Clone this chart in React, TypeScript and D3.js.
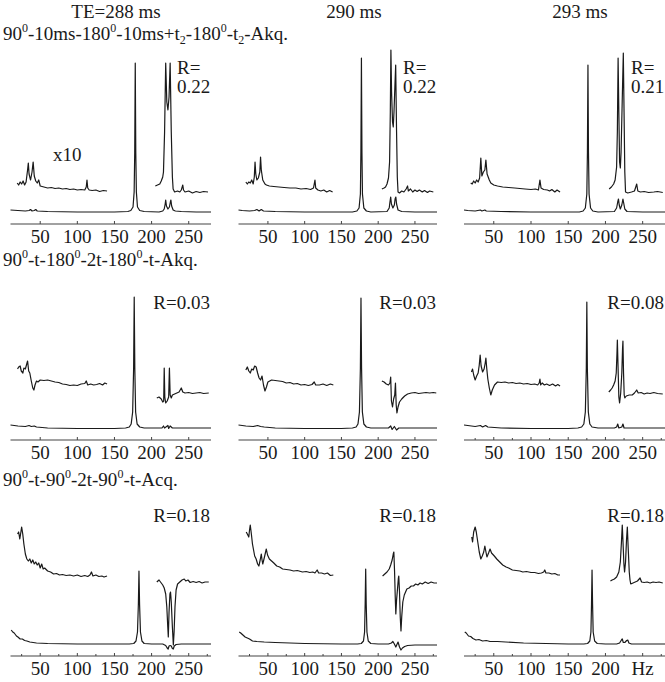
import React from 'react';
import * as d3 from 'd3';

const width = 665;
const height = 682;

// frequency axis (Hz) shared by all nine spectra
const hzDomain = [10, 280];
const majorTicks = [50, 100, 150, 200, 250];
const minorTicks = [25, 75, 125, 175, 225, 275];
const tickLabels = ['50', '100', '150', '200', '250'];
const lastColTickLabels = ['50', '100', '150', '200', 'Hz'];

const headers = ['TE=288 ms', '290 ms', '293 ms'];
const rValues = [
  ['0.22', '0.22', '0.21'],
  ['0.03', '0.03', '0.08'],
  ['0.18', '0.18', '0.18'],
];

// ---- sequence A: 90-10ms-180-10ms+t2-180-t2-Akq. ----
const seqA288Main = [[10,2],[20,1.5],[30,1],[35,1.5],[37,2.5],[39,1],[42,1.5],[44,2.5],[46,1],[60,0.5],[100,0],[150,0],[168,0.5],[172,1.5],[175,5],[176.5,20],[177.3,60],[178,149],[178.7,60],[179.5,20],[181,5],[184,1.5],[190,0.5],[210,0],[215,1],[217,3],[218.3,8],[219,12],[220,6],[222,3],[224,5],[225.3,10],[226,12],[227,6],[229,2],[232,1],[240,0.5],[260,0],[280,0]];
const seqA288Low = [[19,9],[21,7],[23,10],[25,8],[27,11],[29,7],[31,10],[33,22],[34,29],[35,18],[37,12],[39,20],[40.5,30],[42,16],[44,11],[46,9],[48,12],[50,6],[55,5],[60,4],[65,4.5],[70,3.5],[75,4],[80,3],[85,3.5],[90,2.5],[95,3],[100,2],[105,2.5],[110,2],[112,5],[113,12],[114,4],[116,2],[120,1.5],[125,2],[130,0.5],[135,1.5],[140,1]];
const seqA288High = [[205,6],[208,7],[211,8],[213,11],[215,15],[216,20],[217.5,60],[219,129],[220.5,90],[222,82],[223.5,95],[225,129],[226.5,60],[228,15],[229,3],[231,0],[235,1],[238,0],[240,2],[242,7],[243,2],[245,0],[250,1],[255,-1],[260,0.5],[265,-0.5],[270,0.5],[276,0]];

const seqA290Main = [[10,2],[15,1.5],[25,1],[32,1.5],[35,2.5],[38,1],[41,2.5],[44,1],[60,0.5],[100,0],[165,0],[171,1],[174,4],[175.8,18],[176.5,60],[177.2,154],[177.9,60],[178.6,18],[180.5,4],[184,1],[190,0],[212,0.5],[215,4],[216,10],[217,15],[218,8],[220,4],[222,7],[223,13],[224,15],[225,8],[227,2],[232,0.5],[250,0],[280,0]];
const seqA290Low = [[20,10],[22,8],[24,10],[26,9],[28,12],[30,8],[31.5,15],[32.5,30],[33.5,18],[35,12],[37,14],[39,20],[40,35],[41,22],[43,12],[46,8],[48,7],[52,6],[58,5.5],[65,5],[72,4.5],[80,4],[88,4],[95,3],[102,3.5],[108,2.5],[112,4],[114,12],[115,4],[118,2],[122,1],[126,2],[130,0],[134,1.5],[138,0]];
const seqA290High = [[205,3],[208,4],[210,5],[212,8],[214,14],[215.5,30],[216.5,80],[217.3,142],[218.2,100],[219.5,70],[220.5,65],[221.5,80],[222.7,105],[223.8,127],[225,60],[226,15],[227,0],[229,-1],[232,1],[235,0],[238,3],[240,6],[241,1],[244,3],[247,0],[250,2],[253,0.5],[256,2],[260,0],[263,1.5],[267,-0.5],[270,1],[275,0]];

const seqA293Main = [[10,2],[15,1.5],[25,1],[32,2],[34,1],[38,2],[40,1],[60,0.5],[100,0],[165,0],[170,1],[173,4],[175,18],[175.8,60],[176.5,147],[177.2,60],[178,18],[180,4],[183,1],[190,0],[212,0.5],[215,4],[216.5,10],[217.5,13],[218.5,7],[220,3],[222,7],[223.5,13],[224.5,9],[226,3],[229,0.5],[250,0],[280,0]];
const seqA293Low = [[19,9],[21,8],[23,11],[25,9],[27,12],[29,10],[31,14],[32.6,34],[34,16],[36,20],[38,22],[39.4,32],[41,18],[44,12],[46,9],[50,7],[55,6],[62,5],[70,4.5],[78,4],[85,3.5],[92,3],[100,2.5],[106,3],[110,2],[112,12],[113.5,4],[117,2.5],[122,2],[125,1],[128,2.5],[132,0],[135,2],[139,0]];
const seqA293High = [[205,3],[208,5],[211,8],[213,12],[215,25],[216,60],[217,134],[218,80],[219,30],[220,24],[221,40],[222.5,90],[224,139],[225,80],[226,20],[227,0],[230,-1],[235,0],[239,1],[242,8],[243.5,1],[247,0],[252,0.5],[258,-0.5],[265,0],[270,0.5],[277,-0.5]];

// ---- sequence B: 90-t-180-2t-180-t-Akq. ----
const seqB288Main = [[10,3],[20,2],[30,1.5],[35,2.5],[38,1.5],[42,2],[45,1],[60,0],[100,-0.5],[150,-0.5],[165,0],[170,1],[172.5,4],[174.5,16],[175.8,60],[176.6,131],[177.4,60],[178.5,16],[180.5,4],[184,1],[190,0],[214,0],[216,2],[217.5,0],[222,2.5],[223,-0.5],[225,2],[228,0],[280,0]];
const seqB288Low = [[19.5,24],[21,26],[23,27],[24.5,22],[26.7,20],[28,25],[30,24],[31.5,28],[33,32],[34.5,22],[36,20],[38,12],[40,5],[41.5,3],[43,8],[45,12],[47,11],[50,13],[55,12.5],[60,13],[65,12],[70,11],[75,10.5],[80,9],[85,8.5],[90,7.5],[95,8],[100,7.5],[105,9],[110,9.5],[112,12],[114,8],[118,9],[122,8],[126,8.5],[130,9.5],[134,8],[137,10],[140,9]];
const seqB288High = [[207,-5],[210,-4],[213,-6],[215,-9],[216.3,-8],[217,25],[217.8,-4],[219,-10],[221,-8],[223,-4],[224,25],[225,-2],[226.5,-5],[228,-2],[231,-1],[234,0],[237,1],[240,5],[242,1],[245,0],[250,0.5],[255,-0.5],[260,0],[265,0.5],[270,-0.5],[277,0]];

const seqB290Main = [[10,3],[20,2],[30,1.5],[36,2.5],[40,1.5],[45,1],[60,0],[100,-0.5],[150,-0.5],[165,0],[170,1],[172.5,4],[174.5,16],[175.8,60],[176.6,130],[177.4,60],[178.5,16],[180.5,4],[184,1],[190,0],[214,0],[217,2],[219,-1.5],[222,1.5],[225,-2],[228,0],[280,0]];
const seqB290Low = [[20,23],[22,26],[24,22],[26,20],[28,24],[30,23],[32,27],[34,26],[36,20],[38,15],[40,13],[42,17],[44,8],[46,2],[48,6],[50,11],[55,13],[60,12.5],[65,12],[70,11.5],[75,10],[80,10.5],[85,9],[90,9.5],[95,8],[100,8.5],[105,7.5],[110,8.5],[113,11],[115,8],[120,8],[125,9],[130,7.5],[135,9],[139,8]];
const seqB290High = [[205,12],[208,11],[211,9],[214,8],[216,10],[217,16],[218,-8],[219.5,-14],[221,-6],[222.5,-2],[223.5,10],[224.5,-12],[225.5,-20],[227,-14],[229,-9],[232,-6],[236,-3],[240,-1],[245,0],[250,0.5],[255,-0.5],[260,0],[265,0.5],[270,0],[275,0.5],[279,0]];

const seqB293Main = [[10,3],[15,2.5],[25,1.5],[32,2.5],[35,1],[39,2.5],[42,1],[60,0],[100,-0.5],[150,-0.5],[163,0],[168,1],[171,4],[173,16],[174.3,60],[175,126],[175.7,60],[177,16],[179,4],[182,1],[190,0],[212,0],[215,1],[216.5,4],[218,0],[222,1],[223.5,4],[225,0],[230,0],[280,0]];
const seqB293Low = [[20,21],[21.5,24],[23,18],[25,13],[27,17],[29,20],[30.5,28],[31.7,38],[33,27],[35,21],[37,24],[38.5,30],[39.4,35],[40.5,25],[42,14],[44,5],[46,-2],[48,3],[51,8],[55,11],[60,10.5],[65,11],[70,10],[75,10.5],[80,9.5],[85,10],[90,9],[95,9.5],[100,8.5],[105,9],[109,8],[111,10],[112,14],[113,8],[115,10],[118,8],[121,9],[125,7.5],[129,9],[133,7],[136,8.5],[139,7]];
const seqB293High = [[204.5,1],[207,3],[209,5],[211,8],[213,12],[214.5,20],[215.5,40],[216,53],[216.8,30],[218,-4],[219,-10],[220.5,0],[222,20],[223,45],[223.5,52],[224.3,20],[225.2,-2],[226,-5],[228,-3],[232,-2],[236,-2],[239,0],[242,3],[244,0],[248,0.5],[252,-1],[256,0],[260,-0.5],[265,0.5],[270,-0.5],[277,-1]];

// ---- sequence C: 90-t-90-2t-90-t-Acq. ----
const seqC288Main = [[11,14],[13,12],[15,11],[18,8],[20,7],[23,5],[26,5],[29,3.5],[32,3],[36,2],[45,1],[60,0.5],[100,0],[170,0],[176,0.5],[179,3],[181,12],[182.2,40],[183,73],[183.8,40],[185,12],[187,3],[190,0.5],[200,0],[215,0],[219,-1.5],[221,-4],[222.3,-5],[223.5,-2],[225,-1.5],[226.5,-2],[228,-4.5],[229.2,-5],[230.5,-2],[233,-0.5],[240,0],[280,0]];
const seqC288Low = [[19.5,48],[21,50],[22.5,43],[24,50],[25,55],[26.5,48],[28,38],[30,28],[32,23],[34,21],[36,23],[38,19],[40,22],[42,18],[44,20],[46,17],[48,19],[50,14],[52,18],[54,13],[56,14],[60,11],[64,10],[68,8],[72,8.5],[76,7],[80,7.5],[85,6.5],[90,7],[95,6],[100,7],[105,5.5],[110,6.5],[114,5.5],[117,7],[119,10],[121,6],[125,7],[129,5.5],[133,6],[136,5],[140,6]];
const seqC288High = [[207,0],[210,2],[213,-1],[215,-3],[217,-6],[219,-12],[220.5,-25],[221.8,-45],[222.5,-55],[223.5,-30],[224.7,-12],[225.5,-10],[226.5,-20],[228,-45],[229.3,-63],[230.3,-50],[231.5,-25],[233,-8],[235,-2],[238,0],[241,2],[244,3],[246,1],[249,2],[252,-0.5],[256,0.5],[260,-0.5],[264,0.5],[268,-1],[272,0],[277,0]];

const seqC290Main = [[11,12],[13,11],[16,9],[19,7],[22,6],[25,5],[29,3],[35,2.5],[45,2],[60,1.5],[100,0.5],[150,0],[172,0],[177,0.5],[180,3],[181.5,12],[182.3,40],[183,75],[183.7,40],[184.7,12],[186.5,3],[190,0.5],[200,0],[214,0],[218,1],[220,2.5],[222,0],[224,-3],[225.5,-0.5],[227,2],[229,-3],[231,-6],[233,-4],[236,-2.5],[240,-1.5],[250,-1],[280,-1]];
const seqC290Low = [[20.5,50],[22,48],[24,45],[25,52],[26,57],[27.5,48],[29,38],[31,30],[32,26],[34,23],[36,18],[37.7,16],[39.5,22],[41,28],[42,22],[43,18],[45,24],[47.8,33],[49.5,27],[52,23],[55,21],[58,19],[62,16],[66,15],[70,13],[75,12.5],[80,12],[85,11],[90,11.5],[97,10],[102,10.5],[107,9.5],[111,10],[114,9],[117,12],[119,9],[123,9],[127,8],[131,9],[135,6.5],[139,7]];
const seqC290High = [[206,6],[209,8],[212,10],[215,13],[217,17],[219,22],[220.5,28],[221.3,30],[222.3,10],[223.2,-15],[224,-32],[225,-18],[226.5,-5],[227.5,4],[228,6],[229,-10],[230,-35],[231,-49],[232,-35],[233.5,-20],[235.5,-13],[239,-7],[242,-6],[245,-4],[248,-4],[251,-2],[254,-3],[257,-1],[260,-2],[264,0],[268,-1.5],[272,0],[276,-1],[280,-1]];

const seqC293Main = [[11,12],[13,11],[16,8],[19,7.5],[22,5.5],[26,4],[30,4.5],[35,3],[40,3.5],[45,2.5],[55,2.5],[66,2],[90,1],[120,0.5],[150,0],[171,0],[176,0.5],[179,3],[180.5,12],[181.3,40],[182,74],[182.7,40],[183.5,12],[185.5,3],[189,0.5],[200,0],[215,0],[219,1],[221.5,4],[222.6,5],[224,1.5],[226,1.5],[228.5,3.5],[230,4],[231.5,1],[235,0],[280,0]];
const seqC293Low = [[20.4,45],[21.5,40],[23,50],[25,55],[26.5,50],[28.5,40],[30.5,30],[32.6,23],[34.5,26],[36.5,30],[38,36],[39.5,30],[40.8,25],[43,29],[45,33],[47,29],[50.7,26],[54,23],[58,20],[62,17],[66.6,15],[70,14],[75,12],[80,11.5],[85,11],[89,10],[94,10.5],[100,9.5],[105,9.5],[110,8.5],[114,9],[117,10],[118.5,12],[120,9],[124,9],[128,8],[132,8.5],[136,7],[139,7]];
const seqC293High = [[206.7,1],[209,2],[212,3],[215,5],[218,10],[220,20],[221.5,40],[222.6,57],[223.7,38],[224.8,18],[225.7,10],[227,20],[228.3,42],[229.4,55],[230.5,35],[232,10],[233,2],[234,-2],[237,-1],[240,0],[243,1],[246.5,4],[248.5,0],[252,-0.5],[256,0],[260,-1],[264,0],[268,-0.5],[272,0],[277,-1]];

const mainTraces = [
  [seqA288Main, seqA290Main, seqA293Main],
  [seqB288Main, seqB290Main, seqB293Main],
  [seqC288Main, seqC290Main, seqC293Main],
];
const lowX10 = [
  [seqA288Low, seqA290Low, seqA293Low],
  [seqB288Low, seqB290Low, seqB293Low],
  [seqC288Low, seqC290Low, seqC293Low],
];
const highX10 = [
  [seqA288High, seqA290High, seqA293High],
  [seqB288High, seqB290High, seqB293High],
  [seqC288High, seqC290High, seqC293High],
];

const rowTitles = [
  [['90', 'n'], ['0', 'sup'], ['-10ms-180', 'n'], ['0', 'sup'], ['-10ms+t', 'n'], ['2', 'sub'], ['-180', 'n'], ['0', 'sup'], ['-t', 'n'], ['2', 'sub'], ['-Akq.', 'n']],
  [['90', 'n'], ['0', 'sup'], ['-t-180', 'n'], ['0', 'sup'], ['-2t-180', 'n'], ['0', 'sup'], ['-t-Akq.', 'n']],
  [['90', 'n'], ['0', 'sup'], ['-t-90', 'n'], ['0', 'sup'], ['-2t-90', 'n'], ['0', 'sup'], ['-t-Acq.', 'n']],
];

// layout
const colLeft = [10.5, 238.5, 464];
const colRight = [211, 437, 665];
const axisY = [224, 440, 656];
const baseGap = 12;
const insetLift = [20, 35, 62];
const titleY = [40, 266, 486];
const rY = [74, 309, 522];
const fontSize = 19;
const ink = '#1a1a1a';

const RichText = ({ x, y, parts }) => {
  let shift = 0;
  return (
    <text x={x} y={y}>
      {parts.map(([t, k], i) => {
        const target = k === 'sup' ? -8 : k === 'sub' ? 4 : 0;
        const dy = target - shift;
        shift = target;
        return (
          <tspan key={i} dy={dy} fontSize={k === 'n' ? fontSize : 12}>{t}</tspan>
        );
      })}
    </text>
  );
};

const Panel = ({ row, col }) => {
  const x = d3.scaleLinear().domain(hzDomain).range([colLeft[col], colRight[col]]);
  const base = axisY[row] - baseGap;
  const y = d3.scaleLinear().domain([0, 150]).range([base, base - 150]);
  const yInset = d3.scaleLinear().domain([0, 150]).range([base - insetLift[row], base - insetLift[row] - 150]);
  const line = d3.line().x(d => x(d[0])).y(d => y(d[1]));
  const insetLine = d3.line().x(d => x(d[0])).y(d => yInset(d[1]));
  const dense = row === 2 || (row === 1 && col === 2);
  const labels = row === 2 && col === 2 ? lastColTickLabels : tickLabels;
  const ay = axisY[row];
  const right = x(hzDomain[1]);

  return (
    <g>
      <line x1={x(hzDomain[0])} x2={right} y1={ay} y2={ay} stroke="#444" strokeWidth={1.2} />
      {majorTicks.map(t => (
        <line key={t} x1={x(t)} x2={x(t)} y1={ay} y2={ay - 3} stroke="#444" strokeWidth={1} />
      ))}
      {dense && minorTicks.map(t => (
        <line key={'m' + t} x1={x(t)} x2={x(t)} y1={ay} y2={ay - 2} stroke="#444" strokeWidth={1} />
      ))}
      {majorTicks.map((t, i) => (
        <text key={'l' + t} x={x(t)} y={ay + 19} textAnchor="middle" fontSize={fontSize}>{labels[i]}</text>
      ))}
      <path d={line(mainTraces[row][col])} fill="none" stroke={ink} strokeWidth={1.2} strokeLinejoin="round" />
      <path d={insetLine(lowX10[row][col])} fill="none" stroke={ink} strokeWidth={1.2} strokeLinejoin="round" />
      <path d={insetLine(highX10[row][col])} fill="none" stroke={ink} strokeWidth={1.2} strokeLinejoin="round" />
      {row === 0 ? (
        <text x={right - 34} y={rY[row]} fontSize={fontSize}>
          <tspan x={right - 34}>R=</tspan>
          <tspan x={right - 34} dy={19}>{rValues[row][col]}</tspan>
        </text>
      ) : (
        <text x={right - 1} y={rY[row]} textAnchor="end" fontSize={fontSize}>
          {'R=' + rValues[row][col]}
        </text>
      )}
    </g>
  );
};

const App = () => {
  const headerX = [116, 354, 580];
  return (
    <svg width={width} height={height} style={{ position: 'absolute', left: 0, top: 0, background: '#fff' }}
      fontFamily="'Liberation Serif', 'Times New Roman', serif" fill={ink}>
      <rect width={width} height={height} fill="#fff" />
      {headers.map((h, i) => (
        <text key={h} x={headerX[i]} y={18} textAnchor="middle" fontSize={fontSize}>{h}</text>
      ))}
      {rowTitles.map((parts, r) => (
        <RichText key={r} x={3} y={titleY[r]} parts={parts} />
      ))}
      <text x={53} y={161} fontSize={fontSize}>x10</text>
      {[0, 1, 2].map(r => [0, 1, 2].map(c => <Panel key={r + '-' + c} row={r} col={c} />))}
    </svg>
  );
};

export default App;
